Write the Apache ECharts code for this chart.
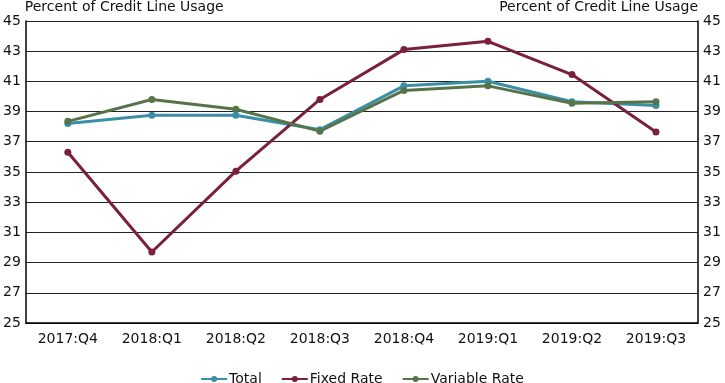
<!DOCTYPE html>
<html><head><meta charset="utf-8">
<script src="https://cdn.jsdelivr.net/npm/echarts@6/dist/echarts.min.js"></script>
<style>html,body{margin:0;padding:0;background:#fff}#c{width:725px;height:383px}</style>
</head><body><div id="c"></div>
<script>
const categories = ['2017:Q4','2018:Q1','2018:Q2','2018:Q3','2018:Q4','2019:Q1','2019:Q2','2019:Q3'];
const total = [38.2, 38.75, 38.75, 37.8, 40.7, 41.0, 39.65, 39.4];
const fixedRate = [36.3, 29.7, 35.05, 39.8, 43.1, 43.65, 41.45, 37.65];
const variableRate = [38.35, 39.8, 39.15, 37.7, 40.4, 40.7, 39.55, 39.65];
const yTicks = {min: 25, max: 45, interval: 2};
const axisTitle = 'Percent of Credit Line Usage';
const FONT = 'DejaVu Sans';
const FS = 14;
const chart = echarts.init(document.getElementById('c'));
const mk = (name, data, color) => ({
  name, type: 'line', data, yAxisIndex: 0,
  symbol: 'circle', symbolSize: 7, showSymbol: true,
  lineStyle: {color, width: 3}, itemStyle: {color},
  animation: false
});
const yCommon = {
  type: 'value', min: yTicks.min, max: yTicks.max, interval: yTicks.interval,
  axisLine: {show: true, lineStyle: {color: '#000', width: 1.5}},
  axisTick: {show: false},
  axisLabel: {color: '#111', fontFamily: FONT, fontSize: FS, margin: 5},
  nameTextStyle: {color: '#111', fontFamily: FONT, fontSize: FS},
  name: axisTitle, nameGap: 2
};
chart.setOption({
  animation: false,
  grid: {left: 25, right: 27, top: 19, bottom: 60},
  legend: {
    top: 367, left: 'center', itemWidth: 26, itemHeight: 8, itemGap: 20,
    icon: 'path://M0,3 L26,3 L26,5 L0,5 Z M10,4 a3,3 0 1,1 6,0 a3,3 0 1,1 -6,0 Z',
    textStyle: {color: '#111', fontFamily: FONT, fontSize: FS, padding: [0,0,0,-3]},
    data: ['Total','Fixed Rate','Variable Rate']
  },
  xAxis: {
    type: 'category', data: categories, boundaryGap: true,
    axisLine: {show: true, lineStyle: {color: '#000', width: 1.5}},
    axisTick: {show: false},
    axisLabel: {color: '#111', fontFamily: FONT, fontSize: FS, margin: 9}
  },
  yAxis: [
    Object.assign({}, yCommon, {position: 'left', nameLocation: 'end',
      nameTextStyle: Object.assign({}, yCommon.nameTextStyle, {align: 'left', padding: [0,0,0,-1]}),
      splitLine: {show: true, lineStyle: {color: '#222', width: 1.2}}}),
    Object.assign({}, yCommon, {position: 'right', nameLocation: 'end',
      nameTextStyle: Object.assign({}, yCommon.nameTextStyle, {align: 'right', padding: [0,0,0,0]}),
      splitLine: {show: false}})
  ],
  series: [
    mk('Total', total, '#3a8ea6'),
    mk('Fixed Rate', fixedRate, '#7a1f3d'),
    mk('Variable Rate', variableRate, '#577449')
  ]
});
</script></body></html>
